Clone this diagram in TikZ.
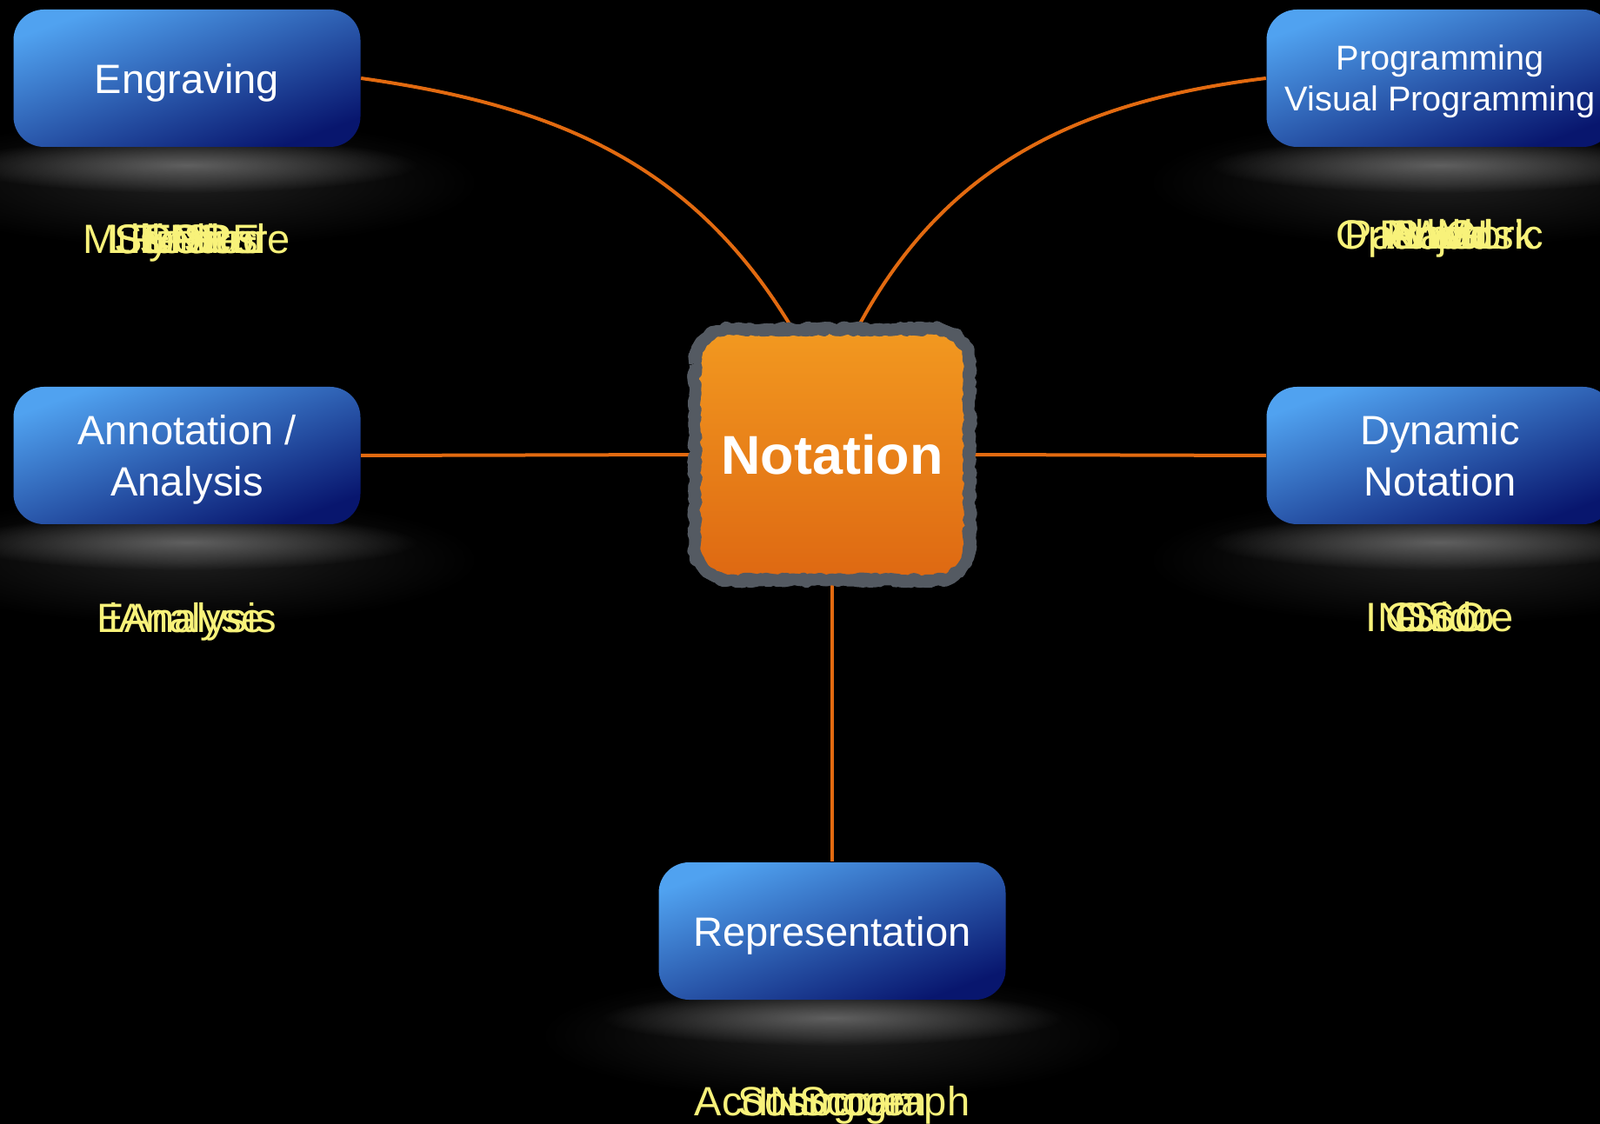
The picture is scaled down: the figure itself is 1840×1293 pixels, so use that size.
\documentclass[tikz,border=0pt]{standalone}
\usepackage{fontspec}
\setmainfont{Liberation Sans}
\usetikzlibrary{calc, decorations.pathmorphing, fadings}
\definecolor{boxtop}{RGB}{80,162,240}
\definecolor{boxbot}{RGB}{8,22,110}
\definecolor{notetop}{RGB}{242,153,32}
\definecolor{notebot}{RGB}{222,104,18}
\definecolor{noteedge}{RGB}{84,90,98}
\definecolor{linkorange}{RGB}{226,106,16}
\definecolor{tooltext}{RGB}{248,242,122}
\definecolor{glowgrey}{RGB}{96,96,96}
\definecolor{hazegrey}{RGB}{30,30,30}
\tikzfading[name=softglow, inner color=transparent!0, outer color=transparent!100]

\begin{document}
\begin{tikzpicture}[x=0.1mm, y=-0.1mm,
    bluebox/.style={rounded corners=3.5mm, minimum width=39.9mm, minimum height=15.8mm,
        top color=boxtop, bottom color=boxbot, shading angle=20, text=white, align=center,
        text depth=0pt, font=\fontsize{13.4}{16.8}\selectfont},
    notebox/.style={rounded corners=4mm, minimum width=31.6mm, minimum height=28.9mm,
        top color=notetop, bottom color=notebot, text=white,
        font=\fontsize{17.9}{20}\selectfont\bfseries},
    roughedge/.style={draw=noteedge, line width=1.3mm, line join=round, decorate,
        decoration={random steps, segment length=1.4pt, amplitude=0.7pt}},
    link/.style={draw=linkorange, line width=0.4mm},
    glow/.style={fill=glowgrey, path fading=softglow},
    haze/.style={fill=hazegrey, path fading=softglow},
    tool/.style={text=tooltext, anchor=base, inner sep=0pt, font=\fontsize{13.4}{16}\selectfont}]
        \useasboundingbox (0,0) rectangle (1840,1293);
        \fill[black] (0,0) rectangle (1840,1293);
        \foreach \gx/\gy in {215/190, 1656/190, 215/624, 1656/624, 957/1171} {
            \fill[haze] (\gx,\gy+20) ellipse (340 and 75);
            \fill[glow] (\gx,\gy) ellipse (265 and 32);
        }
        \node[bluebox] (eng) at (215,90) {Engraving};
        \node[bluebox, font=\fontsize{11.3}{13.4}\selectfont] (prog) at (1656,90) {Programming\\Visual Programming};
        \node[bluebox] (ana) at (215,524) {Annotation /\\Analysis};
        \node[bluebox] (dyn) at (1656,524) {Dynamic\\Notation};
        \node[bluebox] (rep) at (957,1071) {Representation};
        \node[notebox] (note) at (957,523) {Notation};
        \draw[link] (eng.east) to[out=-8, in=121] ([xshift=-4.6mm]note.north);
        \draw[link] (prog.west) to[out=187, in=62] ([xshift=2.9mm]note.north);
        \draw[link] (ana.east) -- (note.west);
        \draw[link] (dyn.west) -- (note.east);
        \draw[link] (note.south) -- (rep.north);
        \begin{scope}[shift={(note.center)}, x=1mm, y=1mm]
            \foreach \r in {0,1}
            \draw[roughedge] (-15.8,10.45) -- (-15.8,-10.45) arc[start angle=180, end angle=270, radius=4]
                -- (11.8,-14.45) arc[start angle=270, end angle=360, radius=4]
                -- (15.8,10.45) arc[start angle=0, end angle=90, radius=4]
                -- (-11.8,14.45) arc[start angle=90, end angle=180, radius=4] -- cycle;
        \end{scope}
        \foreach \w [count=\i] in {MuseScore,Sibelius,Finale,LilyPond,SCORE,ENP}
            \node[tool] (engtool\i) at (215,292) {\w};
        \foreach \w [count=\i] in {OpenMusic,PWGL,Patchwork,Abjad,Nodal,Bach}
            \node[tool] (progtool\i) at (1656,287) {\w};
        \foreach \w [count=\i] in {EAnalysis,iAnalyse}
            \node[tool] (anatool\i) at (215,728) {\w};
        \foreach \w [count=\i] in {INScore,Guido,OSC}
            \node[tool] (dyntool\i) at (1656,727) {\w};
        \foreach \w [count=\i] in {Acousmograph,INScore,Sonogram}
            \node[tool] (reptool\i) at (957,1283) {\w};
\end{tikzpicture}
\end{document}
